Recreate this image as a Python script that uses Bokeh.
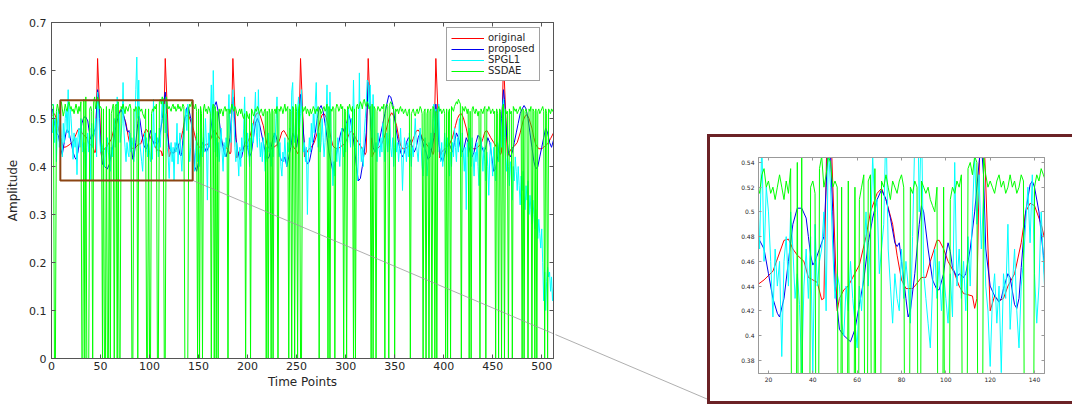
from bokeh.plotting import figure
from bokeh.layouts import row, column
from bokeh.models import (Legend, LegendItem, BoxAnnotation, Label, LinearAxis, Range1d,
                          FixedTicker, CustomJSTickFormatter, Spacer, Div)
from bokeh.embed import file_html
from bokeh.resources import INLINE

title_text = "ECG Reconstruction (25% Sampling)"
x_label = "Time Points"
y_label = "Amplitude"
series_names = ["original", "proposed", "SPGL1", "SSDAE"]
series_colors = ["#FF0000", "#0000F0", "#00FFFF", "#00FF00"]

main_x_ticks = [0, 50, 100, 150, 200, 250, 300, 350, 400, 450, 500]
main_y_ticks = [0, 0.1, 0.2, 0.3, 0.4, 0.5, 0.6, 0.7]
inset_x_ticks = [20, 40, 60, 80, 100, 120, 140]
inset_y_ticks = [0.38, 0.40, 0.42, 0.44, 0.46, 0.48, 0.50, 0.52, 0.54]

# original ECG (time point, amplitude)
original_t = [1, 3, 5, 7, 9, 11, 13, 15,
              18, 22, 24, 27, 29, 31, 33, 36, 38, 40, 42, 44, 45,
              47, 51, 52, 54, 56, 58, 61, 64, 66, 69, 71, 73, 76, 78, 80, 82, 85, 86, 89, 91, 93,
              96, 97, 99, 101, 104, 106, 108, 110, 112, 113, 114,
              116, 120, 122, 124, 126, 128, 131, 134, 136, 138, 140, 143, 145, 147, 149, 151, 154, 157, 160, 162,
              165, 166, 168, 170, 173, 175, 178, 180, 182, 183,
              185, 189, 191, 193, 196, 199, 202, 205, 207, 209, 211, 213, 216, 218, 220, 222, 225, 228, 231,
              233, 235, 237, 239, 241, 244, 247, 249, 251, 252,
              254, 258, 260, 262, 265, 268, 271, 274, 276, 278, 280, 283, 285, 287, 290, 293, 296, 299,
              302, 304, 306, 308, 310, 313, 316, 318, 320, 321,
              323, 327, 329, 331, 334, 337, 340, 343, 345, 347, 349, 352, 354, 356, 358, 361, 364, 367,
              369, 372, 374, 376, 378, 381, 384, 386, 388, 389, 390,
              392, 396, 398, 400, 403, 406, 409, 412, 414, 416, 418, 420, 423, 425, 427, 430, 433, 436, 438,
              440, 442, 444, 446, 448, 451, 454, 456, 458, 459,
              461, 465, 467, 469, 472, 475, 478, 481, 483, 485, 487, 490, 492, 494, 497, 500, 503, 506, 509, 512]
original_v = [0.505, 0.51, 0.5, 0.48, 0.46, 0.447, 0.44, 0.441,
              0.445, 0.452, 0.462, 0.477, 0.478, 0.47, 0.465, 0.46, 0.447, 0.445, 0.443, 0.429, 0.43,
              0.625, 0.42, 0.43, 0.437, 0.44, 0.447, 0.457, 0.48, 0.5, 0.515, 0.519, 0.51, 0.49, 0.465, 0.445, 0.438, 0.438, 0.44, 0.447, 0.447, 0.46,
              0.477, 0.477, 0.47, 0.46, 0.45, 0.44, 0.434, 0.433, 0.432, 0.422, 0.43,
              0.625, 0.42, 0.432, 0.428, 0.43, 0.44, 0.45, 0.475, 0.5, 0.507, 0.505, 0.49, 0.475, 0.458, 0.445, 0.44, 0.44, 0.445, 0.447, 0.455,
              0.472, 0.476, 0.47, 0.462, 0.455, 0.445, 0.44, 0.435, 0.426, 0.43,
              0.625, 0.418, 0.43, 0.435, 0.44, 0.445, 0.46, 0.482, 0.5, 0.51, 0.512, 0.505, 0.485, 0.462, 0.445, 0.437, 0.437, 0.442, 0.447,
              0.458, 0.472, 0.475, 0.468, 0.46, 0.45, 0.44, 0.435, 0.427, 0.43,
              0.625, 0.42, 0.428, 0.435, 0.44, 0.45, 0.47, 0.495, 0.508, 0.51, 0.503, 0.48, 0.46, 0.443, 0.437, 0.438, 0.443, 0.447,
              0.46, 0.47, 0.474, 0.468, 0.46, 0.45, 0.44, 0.433, 0.425, 0.43,
              0.625, 0.42, 0.43, 0.436, 0.44, 0.448, 0.465, 0.49, 0.505, 0.512, 0.505, 0.485, 0.462, 0.445, 0.437, 0.437, 0.442, 0.448,
              0.458, 0.474, 0.476, 0.47, 0.46, 0.45, 0.442, 0.436, 0.432, 0.425, 0.43,
              0.625, 0.418, 0.43, 0.435, 0.44, 0.447, 0.46, 0.485, 0.5, 0.508, 0.51, 0.502, 0.48, 0.46, 0.443, 0.437, 0.437, 0.443, 0.447,
              0.458, 0.472, 0.475, 0.468, 0.46, 0.45, 0.44, 0.433, 0.425, 0.43,
              0.625, 0.42, 0.43, 0.437, 0.442, 0.45, 0.47, 0.495, 0.505, 0.508, 0.5, 0.48, 0.46, 0.445, 0.437, 0.437, 0.442, 0.447, 0.458, 0.47]

# proposed reconstruction (time point, amplitude)
proposed_t = [1, 3, 5, 7, 9, 11, 13, 15, 16, 18,
              20, 22, 24, 25, 27, 29, 31, 33, 35, 37,
              38, 39, 40, 41, 43, 45, 46, 47, 48, 49,
              50, 52, 54, 57, 59, 61, 63, 65, 67, 69,
              71, 73, 75, 77, 78, 79, 80, 82, 83, 84,
              86, 88, 89, 90, 92, 94, 96, 97, 99, 100,
              101, 102, 103, 105, 106, 108, 109, 111, 113, 115,
              116, 117, 118, 120, 122, 124, 125, 126, 128, 129,
              131, 132, 133, 134, 136, 138, 139, 140, 142, 144,
              146, 148, 150, 152, 154, 156, 158, 160, 162, 164,
              166, 168, 170, 172, 174, 176, 178, 180, 182, 184,
              185, 186, 188, 190, 192, 194, 196, 198, 200, 202,
              204, 206, 208, 210, 212, 214, 216, 218, 220, 222,
              224, 226, 228, 230, 232, 234, 236, 238, 240, 242,
              244, 246, 248, 250, 252, 254, 255, 257, 259, 261,
              263, 265, 267, 269, 271, 273, 275, 277, 279, 281,
              283, 285, 287, 289, 291, 293, 295, 297, 299, 301,
              303, 305, 307, 309, 311, 313, 315, 317, 319, 321,
              323, 324, 326, 328, 330, 332, 334, 336, 338, 340,
              342, 344, 346, 348, 350, 352, 354, 356, 358, 360,
              362, 364, 366, 368, 370, 372, 374, 376, 378, 380,
              382, 384, 386, 388, 390, 392, 393, 395, 397, 399,
              401, 403, 405, 407, 409, 411, 413, 415, 417, 419,
              421, 423, 425, 427, 429, 431, 433, 435, 437, 439,
              441, 443, 445, 447, 449, 451, 453, 455, 457, 459,
              461, 462, 464, 466, 468, 470, 472, 474, 476, 478,
              480, 482, 484, 486, 488, 490, 492, 494, 496, 498,
              500, 502, 504, 506, 508, 510, 512]
proposed_v = [0.52, 0.49, 0.47, 0.465, 0.44, 0.425, 0.45, 0.472, 0.477, 0.47,
              0.45, 0.43, 0.418, 0.415, 0.43, 0.46, 0.49, 0.503, 0.503, 0.495,
              0.48, 0.465, 0.457, 0.46, 0.47, 0.48, 0.52, 0.56, 0.545, 0.5,
              0.44, 0.405, 0.4, 0.395, 0.405, 0.425, 0.445, 0.475, 0.495, 0.51,
              0.518, 0.51, 0.495, 0.475, 0.472, 0.475, 0.46, 0.43, 0.415, 0.42,
              0.45, 0.49, 0.505, 0.5, 0.47, 0.445, 0.437, 0.437, 0.45, 0.465,
              0.475, 0.468, 0.455, 0.447, 0.45, 0.447, 0.45, 0.47, 0.5, 0.54,
              0.555, 0.53, 0.47, 0.44, 0.432, 0.427, 0.43, 0.438, 0.45, 0.447,
              0.425, 0.422, 0.43, 0.455, 0.5, 0.522, 0.525, 0.52, 0.5, 0.465,
              0.4, 0.39, 0.41, 0.43, 0.45, 0.44, 0.43, 0.44, 0.47, 0.5,
              0.525, 0.535, 0.515, 0.48, 0.45, 0.43, 0.42, 0.435, 0.46, 0.52,
              0.545, 0.52, 0.46, 0.43, 0.415, 0.42, 0.44, 0.455, 0.44, 0.42,
              0.43, 0.46, 0.49, 0.5, 0.49, 0.47, 0.45, 0.43, 0.415, 0.42,
              0.44, 0.46, 0.47, 0.455, 0.43, 0.415, 0.41, 0.42, 0.4, 0.42,
              0.44, 0.47, 0.46, 0.44, 0.47, 0.55, 0.54, 0.47, 0.42, 0.405,
              0.41, 0.43, 0.45, 0.47, 0.5, 0.52, 0.527, 0.515, 0.49, 0.46,
              0.43, 0.41, 0.39, 0.405, 0.43, 0.45, 0.47, 0.48, 0.47, 0.49,
              0.51, 0.495, 0.47, 0.44, 0.4, 0.37, 0.375, 0.4, 0.43, 0.47,
              0.575, 0.56, 0.48, 0.44, 0.43, 0.44, 0.45, 0.47, 0.49, 0.51,
              0.53, 0.548, 0.545, 0.53, 0.5, 0.47, 0.45, 0.43, 0.42, 0.43,
              0.45, 0.46, 0.455, 0.44, 0.43, 0.44, 0.46, 0.47, 0.455, 0.44,
              0.43, 0.415, 0.42, 0.44, 0.46, 0.53, 0.51, 0.45, 0.42, 0.41,
              0.425, 0.44, 0.45, 0.44, 0.43, 0.45, 0.47, 0.46, 0.44, 0.43,
              0.44, 0.46, 0.45, 0.43, 0.42, 0.43, 0.45, 0.465, 0.46, 0.44,
              0.43, 0.44, 0.46, 0.45, 0.42, 0.39, 0.395, 0.42, 0.45, 0.5,
              0.56, 0.54, 0.47, 0.43, 0.42, 0.43, 0.45, 0.47, 0.49, 0.51,
              0.52, 0.527, 0.52, 0.5, 0.47, 0.44, 0.41, 0.395, 0.4, 0.42,
              0.44, 0.46, 0.48, 0.47, 0.45, 0.44, 0.455]

# SPGL1 reconstruction, one value per time point 1..512
spgl1_v = [
    0.47, 0.53, 0.45, 0.5, 0.41, 0.48, 0.52, 0.44, 0.5, 0.46, 0.42, 0.49, 0.45, 0.5, 0.52, 0.47,
    0.56, 0.46, 0.52, 0.5, 0.46, 0.415, 0.47, 0.44, 0.46, 0.383, 0.46, 0.48, 0.44, 0.5, 0.47, 0.43,
    0.45, 0.425, 0.37, 0.44, 0.47, 0.43, 0.48, 0.37, 0.49, 0.44, 0.46, 0.47, 0.5, 0.42, 0.555, 0.52,
    0.47, 0.43, 0.45, 0.44, 0.41, 0.4, 0.44, 0.42, 0.46, 0.43, 0.41, 0.39, 0.44, 0.42, 0.46, 0.5,
    0.44, 0.48, 0.545, 0.5, 0.51, 0.45, 0.47, 0.49, 0.575, 0.47, 0.44, 0.41, 0.45, 0.43, 0.42, 0.47,
    0.43, 0.46, 0.44, 0.41, 0.48, 0.56, 0.628, 0.5, 0.58, 0.45, 0.43, 0.41, 0.39, 0.44, 0.47, 0.43,
    0.46, 0.42, 0.45, 0.43, 0.41, 0.45, 0.415, 0.54, 0.44, 0.47, 0.43, 0.46, 0.42, 0.48, 0.44, 0.5,
    0.545, 0.49, 0.53, 0.47, 0.51, 0.44, 0.42, 0.375, 0.43, 0.45, 0.41, 0.44, 0.37, 0.45, 0.43, 0.49,
    0.405, 0.44, 0.47, 0.42, 0.39, 0.44, 0.46, 0.49, 0.52, 0.475, 0.53, 0.45, 0.41, 0.44, 0.5, 0.46,
    0.42, 0.39, 0.43, 0.47, 0.41, 0.45, 0.4, 0.44, 0.48, 0.42, 0.46, 0.43, 0.5, 0.45, 0.33, 0.47,
    0.44, 0.5, 0.57, 0.46, 0.6, 0.48, 0.43, 0.46, 0.42, 0.45, 0.41, 0.44, 0.48, 0.43, 0.39, 0.45,
    0.42, 0.46, 0.44, 0.5, 0.55, 0.47, 0.45, 0.52, 0.56, 0.5, 0.44, 0.41, 0.45, 0.42, 0.38, 0.44,
    0.4, 0.46, 0.43, 0.48, 0.545, 0.45, 0.42, 0.47, 0.44, 0.4, 0.46, 0.43, 0.49, 0.45, 0.5, 0.555,
    0.47, 0.44, 0.56, 0.46, 0.42, 0.45, 0.41, 0.46, 0.43, 0.39, 0.44, 0.41, 0.47, 0.43, 0.45, 0.4,
    0.44, 0.42, 0.47, 0.45, 0.5, 0.545, 0.46, 0.42, 0.45, 0.4, 0.38, 0.43, 0.41, 0.46, 0.42, 0.4,
    0.45, 0.43, 0.48, 0.44, 0.555, 0.575, 0.47, 0.45, 0.5, 0.46, 0.52, 0.545, 0.48, 0.51, 0.56, 0.47,
    0.43, 0.45, 0.41, 0.44, 0.3, 0.42, 0.46, 0.43, 0.49, 0.45, 0.51, 0.47, 0.53, 0.575, 0.48, 0.44,
    0.47, 0.43, 0.45, 0.5, 0.46, 0.42, 0.45, 0.5, 0.57, 0.47, 0.46, 0.555, 0.48, 0.43, 0.36, 0.41,
    0.38, 0.44, 0.41, 0.46, 0.43, 0.4, 0.45, 0.48, 0.44, 0.42, 0.46, 0.43, 0.49, 0.45, 0.52, 0.47,
    0.44, 0.5, 0.46, 0.58, 0.48, 0.44, 0.41, 0.37, 0.42, 0.595, 0.45, 0.41, 0.44, 0.4, 0.47, 0.5,
    0.53, 0.58, 0.575, 0.52, 0.57, 0.5, 0.46, 0.55, 0.48, 0.43, 0.45, 0.41, 0.47, 0.44, 0.42, 0.46,
    0.43, 0.49, 0.45, 0.41, 0.44, 0.47, 0.43, 0.46, 0.5, 0.44, 0.42, 0.46, 0.4, 0.44, 0.47, 0.43,
    0.45, 0.41, 0.44, 0.48, 0.43, 0.35, 0.42, 0.46, 0.44, 0.41, 0.45, 0.42, 0.47, 0.43, 0.4, 0.44,
    0.42, 0.46, 0.5, 0.45, 0.43, 0.41, 0.45, 0.48, 0.44, 0.4, 0.38, 0.42, 0.46, 0.43, 0.38, 0.41,
    0.45, 0.42, 0.47, 0.44, 0.5, 0.53, 0.47, 0.52, 0.46, 0.43, 0.53, 0.44, 0.41, 0.45, 0.4, 0.43,
    0.47, 0.44, 0.42, 0.46, 0.41, 0.38, 0.43, 0.4, 0.45, 0.42, 0.48, 0.44, 0.41, 0.46, 0.43, 0.5,
    0.45, 0.42, 0.47, 0.43, 0.39, 0.44, 0.31, 0.45, 0.42, 0.48, 0.44, 0.4, 0.46, 0.42, 0.38, 0.43,
    0.41, 0.45, 0.4, 0.36, 0.42, 0.46, 0.43, 0.39, 0.44, 0.41, 0.37, 0.43, 0.4, 0.34, 0.42, 0.45,
    0.41, 0.38, 0.44, 0.4, 0.37, 0.42, 0.45, 0.41, 0.47, 0.5, 0.44, 0.52, 0.54, 0.46, 0.42, 0.39,
    0.43, 0.4, 0.36, 0.41, 0.38, 0.33, 0.4, 0.37, 0.42, 0.39, 0.35, 0.4, 0.36, 0.32, 0.38, 0.35,
    0.39, 0.34, 0.31, 0.36, 0.33, 0.37, 0.3, 0.34, 0.31, 0.28, 0.33, 0.3, 0.27, 0.31, 0.28, 0.25,
    0.29, 0.26, 0.23, 0.27, 0.2, 0.12, 0.18, 0.1, 0.16, 0.19, 0.17, 0.18, 0.14, 0.17, 0.12, 0.15]

# SSDAE reconstruction, one value per time point 1..512
ssdae_v = [
    0.53, 0.525, 0, 0, 0.515, 0.53, 0.52, 0.51, 0.525, 0.535, 0.52, 0.505, 0.515, 0.53, 0.52, 0.515,
    0.53, 0.535, 0.52, 0.525, 0.515, 0.52, 0.51, 0.52, 0.53, 0.52, 0.51, 0.525, 0.515, 0.535, 0, 0,
    0.54, 0, 0.545, 0, 0, 0, 0.52, 0.525, 0.515, 0, 0.535, 0.545, 0.52, 0.53, 0.545, 0.54,
    0.52, 0.525, 0.52, 0, 0.52, 0, 0, 0.525, 0, 0, 0.52, 0, 0.51, 0.52, 0.53, 0,
    0.525, 0.53, 0, 0.535, 0, 0, 0.525, 0.52, 0.53, 0.52, 0.51, 0.525, 0.52, 0.515, 0.525, 0.53,
    0.52, 0, 0, 0.52, 0.515, 0.525, 0.52, 0, 0.525, 0.52, 0.515, 0.52, 0.51, 0.505, 0.5, 0.52,
    0, 0, 0.52, 0, 0, 0.51, 0.52, 0.515, 0.525, 0.52, 0.53, 0, 0, 0.535, 0.54, 0.53,
    0.545, 0.54, 0, 0, 0.545, 0.53, 0.52, 0.525, 0.52, 0.515, 0.525, 0.53, 0.52, 0.525, 0.515, 0.52,
    0.53, 0.52, 0.525, 0.515, 0.52, 0.53, 0.525, 0, 0, 0, 0, 0.52, 0.53, 0.525, 0.535, 0.53,
    0.525, 0.52, 0.53, 0.515, 0, 0.52, 0, 0.525, 0.51, 0, 0.52, 0.53, 0.515, 0.52, 0.51, 0.525,
    0.52, 0.51, 0, 0.52, 0.53, 0, 0.525, 0, 0.515, 0, 0.52, 0.51, 0.52, 0.515, 0.505, 0.52,
    0.525, 0.515, 0.52, 0, 0.52, 0.51, 0.52, 0.53, 0.52, 0.515, 0.525, 0.52, 0.51, 0.505, 0.515, 0.52,
    0.51, 0.52, 0.505, 0.5, 0.51, 0, 0.515, 0.505, 0.5, 0.51, 0, 0.52, 0.515, 0.505, 0.51, 0.52,
    0.515, 0.525, 0.52, 0.51, 0.515, 0.52, 0.51, 0.505, 0.515, 0.52, 0, 0.515, 0, 0.52, 0.51, 0,
    0.52, 0, 0.515, 0.52, 0.51, 0.525, 0, 0.52, 0.515, 0.525, 0.52, 0.51, 0.52, 0.53, 0.515, 0.52,
    0.525, 0, 0.52, 0.515, 0, 0.525, 0.52, 0, 0.53, 0.515, 0, 0.52, 0.53, 0, 0, 0.525,
    0.515, 0.52, 0.525, 0.51, 0.52, 0.515, 0.505, 0.52, 0.51, 0.515, 0.525, 0.52, 0.51, 0.52, 0.515, 0.525,
    0, 0.52, 0.51, 0.515, 0.52, 0.525, 0.515, 0.52, 0.53, 0, 0.525, 0, 0.52, 0.515, 0.525, 0.52,
    0, 0.52, 0.53, 0.525, 0.515, 0.52, 0.53, 0.52, 0.525, 0, 0.52, 0.515, 0, 0.525, 0.52, 0.53,
    0.52, 0.515, 0.525, 0, 0.52, 0, 0.525, 0.53, 0.52, 0.525, 0.535, 0.53, 0.52, 0.535, 0.54, 0.53,
    0.525, 0.535, 0.53, 0.52, 0.525, 0, 0.53, 0, 0.525, 0.52, 0, 0.515, 0.525, 0.52, 0.515, 0.52,
    0.525, 0.52, 0.53, 0, 0.525, 0.53, 0.525, 0, 0.53, 0.535, 0.53, 0.52, 0.525, 0, 0.52, 0.515,
    0.52, 0.51, 0.52, 0.525, 0.515, 0.52, 0.51, 0.515, 0.52, 0.51, 0.505, 0.515, 0.52, 0, 0.51, 0.515,
    0.52, 0.51, 0.505, 0.515, 0.52, 0.51, 0.515, 0.525, 0.52, 0.51, 0, 0.515, 0.52, 0, 0.51, 0.52,
    0, 0.515, 0.52, 0, 0.525, 0.52, 0, 0.515, 0, 0.52, 0.525, 0.515, 0.52, 0.51, 0.515, 0.52,
    0.51, 0, 0.52, 0, 0.515, 0.52, 0, 0.525, 0.52, 0.515, 0.525, 0.53, 0.535, 0.53, 0.54, 0.535,
    0.53, 0, 0.525, 0.52, 0.515, 0.525, 0.52, 0.51, 0.52, 0, 0.515, 0, 0.52, 0.525, 0.515, 0.51,
    0.52, 0.515, 0.505, 0.515, 0, 0.52, 0.515, 0.51, 0.52, 0.525, 0, 0.52, 0.515, 0.525, 0.52, 0.51,
    0.515, 0.52, 0.51, 0.515, 0, 0.52, 0.51, 0, 0.52, 0.515, 0, 0.525, 0.53, 0, 0.52, 0.51,
    0.515, 0, 0.52, 0.51, 0.515, 0, 0.525, 0.52, 0.515, 0.52, 0.51, 0.515, 0.52, 0.525, 0.515, 0,
    0.52, 0, 0.515, 0.52, 0.51, 0, 0.52, 0.515, 0.525, 0, 0.52, 0.515, 0, 0.52, 0, 0.515,
    0.52, 0.51, 0.515, 0.52, 0.525, 0.515, 0, 0.52, 0.51, 0, 0.52, 0.515, 0.51, 0.52, 0.515, 0.52]

spgl1_t = list(range(1, len(spgl1_v) + 1))
ssdae_t = list(range(1, len(ssdae_v) + 1))

# zoomed region (time, amplitude) and inset view ranges
zoom_t = (9, 144)
zoom_v = (0.371, 0.538)
inset_t = (15.5, 144.5)
inset_v = (0.3693, 0.544)
# where the connector from the zoom box reaches the inset frame (in main-plot units)
connector_end = (669.1, -0.0848)

FONT = "DejaVu Sans"
BORDER = "#6B2226"
fmt = CustomJSTickFormatter(code="return String(parseFloat(tick.toFixed(4)));")


def style_axis(ax, ticks, label_size, color, tick_len, standoff):
    ax.ticker = FixedTicker(ticks=ticks)
    ax.formatter = fmt
    ax.major_tick_in = tick_len
    ax.major_tick_out = 0
    ax.minor_tick_line_color = None
    ax.axis_line_color = color
    ax.major_tick_line_color = color
    ax.major_label_text_font = FONT
    ax.major_label_text_font_size = label_size
    ax.major_label_text_color = "#262626"
    ax.major_label_standoff = standoff


def add_series(fig):
    r0 = fig.line(original_t[:len(original_v)], original_v[:len(original_t)], line_color=series_colors[0], line_width=1)
    r1 = fig.line(proposed_t[:len(proposed_v)], proposed_v[:len(proposed_t)], line_color=series_colors[1], line_width=1)
    r2 = fig.line(spgl1_t, spgl1_v, line_color=series_colors[2], line_width=1)
    r3 = fig.line(ssdae_t, ssdae_v, line_color=series_colors[3], line_width=1)
    return [r0, r1, r2, r3]


def mirror_axes(fig, xt, yt, color, tick_len):
    top = LinearAxis()
    right = LinearAxis()
    for ax, t in ((top, xt), (right, yt)):
        style_axis(ax, t, "0px", color, tick_len, 0)
        ax.major_label_text_alpha = 0
    fig.add_layout(top, "above")
    fig.add_layout(right, "right")


def connector(fig):
    fig.line([zoom_t[1], connector_end[0]], [zoom_v[0], connector_end[1]],
             line_color="#9a9a9a", line_width=0.8)


def strip(w, h):
    return Div(text="", width=w, height=h, margin=0,
               styles={"background-color": BORDER})


def no_frame_align(fig):
    try:
        fig.frame_align = False
    except Exception:
        pass


# ---------------- main plot ----------------
p = figure(width=555, height=404, x_range=(0, 512), y_range=(0, 0.7),
           output_backend="svg", toolbar_location=None,
           min_border_left=51, min_border_right=2, min_border_top=22, min_border_bottom=46,
           background_fill_color="white", border_fill_color="white")
p.grid.visible = False
p.outline_line_color = "#555555"
style_axis(p.xaxis[0], main_x_ticks, "11px", "#555555", 4, 3)
style_axis(p.yaxis[0], main_y_ticks, "11px", "#555555", 4, 5)
p.xaxis.axis_label = x_label
p.yaxis.axis_label = y_label
for ax in (p.xaxis[0], p.yaxis[0]):
    ax.axis_label_text_font = FONT
    ax.axis_label_text_font_size = "12px"
    ax.axis_label_text_font_style = "normal"
    ax.axis_label_text_color = "#262626"
p.xaxis.axis_label_standoff = 2
p.yaxis.axis_label_standoff = 6
mirror_axes(p, main_x_ticks, main_y_ticks, "#555555", 4)
no_frame_align(p)

rs = add_series(p)
connector(p)

legend = Legend(items=[LegendItem(label=n, renderers=[r]) for n, r in zip(series_names, rs)],
                location=(395, 277), orientation="vertical",
                label_text_font=FONT, label_text_font_size="10px", label_text_color="#262626",
                label_height=10, glyph_height=10, glyph_width=33, label_standoff=4,
                spacing=0, padding=4, margin=0,
                border_line_color="#444444", border_line_width=1,
                background_fill_color="white", background_fill_alpha=1)
p.add_layout(legend)

p.add_layout(BoxAnnotation(left=zoom_t[0], right=zoom_t[1], bottom=zoom_v[0], top=zoom_v[1],
                           fill_color=None, line_color="#8B4513", line_alpha=1, line_width=2))
p.add_layout(Label(x=256, y=0.7167, text=title_text, text_align="center", text_baseline="middle",
                   text_font=FONT, text_font_size="12px", text_font_style="bold", text_color="black"))

# ---------------- gap carrying the connector (continues the main plot's scales) ----------------
m = figure(width=152, height=404, title=None,
           x_range=Range1d((555 - 51) * 512 / 502, (707 - 51) * 512 / 502),
           y_range=Range1d((358 - 404) / 480, 358 / 480),
           output_backend="svg", toolbar_location=None, x_axis_type=None, y_axis_type=None,
           min_border=0, min_border_left=0, min_border_right=0, min_border_top=0, min_border_bottom=0,
           background_fill_color="white", border_fill_color="white", outline_line_color=None)
m.grid.visible = False
no_frame_align(m)
connector(m)

# ---------------- inset ----------------
q = figure(width=362, height=264, x_range=inset_t, y_range=inset_v,
           output_backend="svg", toolbar_location=None,
           min_border_left=48, min_border_right=28, min_border_top=20, min_border_bottom=28,
           background_fill_color="white", border_fill_color="white")
q.grid.visible = False
q.outline_line_color = "#999999"
style_axis(q.xaxis[0], inset_x_ticks, "6px", "#999999", 3, 3)
style_axis(q.yaxis[0], inset_y_ticks, "6px", "#999999", 3, 4)
mirror_axes(q, inset_x_ticks, inset_y_ticks, "#999999", 3)
no_frame_align(q)
add_series(q)

inset_block = column(Spacer(width=365, height=134, margin=0),
                     strip(365, 3),
                     row(strip(3, 264), q, spacing=0),
                     strip(365, 3), spacing=0)

layout = row(p, m, inset_block, spacing=0)
open("out.html", "w").write(file_html(layout, INLINE))
